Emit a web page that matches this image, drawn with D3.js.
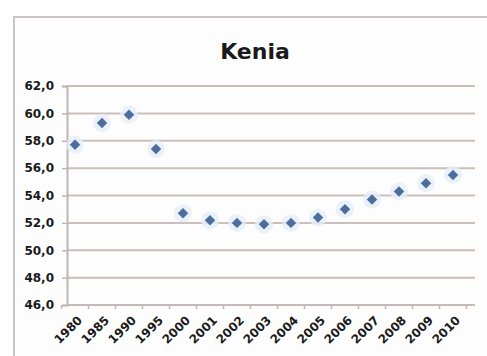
<!DOCTYPE html>
<html>
<head>
<meta charset="utf-8">
<script src="https://cdn.jsdelivr.net/npm/d3@7"></script>
<style>
  html, body { margin: 0; padding: 0; background: #ffffff; }
  svg { display: block; }
  text { font-family: "DejaVu Sans", Arial, sans-serif; font-weight: bold; fill: #1a1a1a; }
</style>
</head>
<body>
<svg id="chart" width="487" height="356"></svg>
<script>
// Lebenserwartung Kenia
const years = ["1980", "1985", "1990", "1995", "2000", "2001", "2002", "2003",
               "2004", "2005", "2006", "2007", "2008", "2009", "2010"];
const values = [57.7, 59.3, 59.9, 57.4, 52.7, 52.2, 52.0, 51.9,
                52.0, 52.4, 53.0, 53.7, 54.3, 54.9, 55.5];
const yTicks = [46, 48, 50, 52, 54, 56, 58, 60, 62];
const title = "Kenia";

const svg = d3.select("#chart");
const W = 487, H = 356;

// chart frame
svg.append("rect").attr("x", 14).attr("y", 17).attr("width", W).attr("height", H)
  .attr("fill", "#fdfdfd");
svg.append("path")
  .attr("d", `M14,${H} L14,17 L${W},17`)
  .attr("fill", "none").attr("stroke", "#c9c3c3").attr("stroke-width", 2);

// title
svg.append("text").attr("x", 255).attr("y", 59)
  .attr("text-anchor", "middle").attr("font-size", 22).text(title);

const plot = { left: 67, right: 475, top: 86, bottom: 305 };

const x = d3.scalePoint().domain(years).range([75, 453]);
const y = d3.scaleLinear().domain([46, 62]).range([plot.bottom, plot.top]);

const fmt = v => d3.format(".1f")(v).replace(".", ",");

// horizontal gridlines
svg.append("g").selectAll("line").data(yTicks.slice(1)).join("line")
  .attr("x1", plot.left).attr("x2", plot.right)
  .attr("y1", d => y(d)).attr("y2", d => y(d))
  .attr("stroke", "#cbbfbb").attr("stroke-width", 2);

// y axis
const yAxis = d3.axisLeft(y).tickValues(yTicks).tickFormat(fmt).tickSize(5).tickPadding(8);
const gy = svg.append("g").attr("transform", `translate(${plot.left},0)`).call(yAxis);
gy.select(".domain").attr("stroke", "#bfb6b3").attr("stroke-width", 2);
gy.selectAll(".tick line").attr("stroke", "#bfb6b3").attr("stroke-width", 1.5);
gy.selectAll(".tick text").attr("font-size", 12).attr("font-family", "DejaVu Sans")
  .attr("font-weight", "bold").attr("fill", "#1a1a1a");

// x axis line with category tick marks
const step = x.step();
const bounds = years.map(d => x(d) - step / 2).concat([x(years[years.length - 1]) + step / 2]);
svg.append("line").attr("x1", plot.left).attr("x2", plot.right)
  .attr("y1", plot.bottom).attr("y2", plot.bottom)
  .attr("stroke", "#c4bab7").attr("stroke-width", 2);
svg.append("g").selectAll("line").data(bounds).join("line")
  .attr("x1", d => d).attr("x2", d => d)
  .attr("y1", plot.bottom).attr("y2", plot.bottom + 4)
  .attr("stroke", "#bfb6b3").attr("stroke-width", 1.5);

// rotated year labels
svg.append("g").selectAll("text").data(years).join("text")
  .attr("transform", d => `translate(${x(d) + 5},${plot.bottom + 13}) rotate(-45)`)
  .attr("text-anchor", "end").attr("dy", "0.35em")
  .attr("font-size", 12).text(d => d);

// markers with soft halo
const pts = years.map((d, i) => ({ year: d, value: values[i] }));
svg.append("g").selectAll("circle").data(pts).join("circle")
  .attr("cx", d => x(d.year)).attr("cy", d => y(d.value)).attr("r", 9)
  .attr("fill", "#e6eef8").attr("opacity", 0.8);
svg.append("g").selectAll("path").data(pts).join("path")
  .attr("transform", d => `translate(${x(d.year)},${y(d.value)})`)
  .attr("d", d3.symbol().type(d3.symbolDiamond2).size(70))
  .attr("fill", "#4e6d9f");
</script>
</body>
</html>
